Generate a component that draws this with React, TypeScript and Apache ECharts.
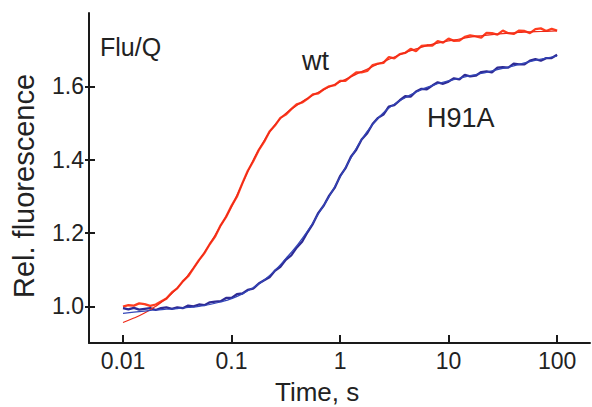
import React, { useEffect, useRef } from "react";
import * as echarts from "echarts";

// Time points of the recorded traces (s)
const TIME = [
  0.01, 0.0112, 0.0126, 0.0141, 0.0158, 0.0178, 0.02, 0.0224, 0.0251, 0.0282,
  0.0316, 0.0355, 0.0398, 0.0447, 0.0501, 0.0562, 0.0631, 0.0708, 0.0794, 0.0891,
  0.1, 0.112, 0.126, 0.141, 0.158, 0.178, 0.2, 0.224, 0.251, 0.282,
  0.316, 0.355, 0.398, 0.447, 0.501, 0.562, 0.631, 0.708, 0.794, 0.891,
  1, 1.12, 1.26, 1.41, 1.58, 1.78, 2, 2.24, 2.51, 2.82,
  3.16, 3.55, 3.98, 4.47, 5.01, 5.62, 6.31, 7.08, 7.94, 8.91,
  10, 11.2, 12.6, 14.1, 15.8, 17.8, 20, 22.4, 25.1, 28.2,
  31.6, 35.5, 39.8, 44.7, 50.1, 56.2, 63.1, 70.8, 79.4, 89.1, 100,
];

// wt trace (noisy record)
const WT = [
  0.999, 1.003, 1.002, 1.008, 1.006, 1.001, 1.005, 1.013, 1.021, 1.038,
  1.049, 1.068, 1.082, 1.104, 1.126, 1.145, 1.17, 1.191, 1.221, 1.244,
  1.274, 1.299, 1.336, 1.369, 1.395, 1.426, 1.449, 1.477, 1.493, 1.514,
  1.523, 1.538, 1.551, 1.556, 1.566, 1.578, 1.581, 1.592, 1.6, 1.603,
  1.615, 1.615, 1.627, 1.638, 1.638, 1.642, 1.658, 1.662, 1.664, 1.68,
  1.676, 1.688, 1.691, 1.702, 1.696, 1.71, 1.712, 1.711, 1.723, 1.719,
  1.73, 1.724, 1.725, 1.735, 1.739, 1.736, 1.733, 1.746, 1.745, 1.741,
  1.752, 1.745, 1.743, 1.752, 1.751, 1.745, 1.756, 1.758, 1.751, 1.757, 1.752,
];

// H91A trace (noisy record)
const H91A = [
  0.995, 0.992, 0.996, 0.991, 0.993, 0.995, 0.99, 0.995, 0.997, 0.993,
  0.997, 0.995, 1.002, 1.0, 1.005, 1.003, 1.011, 1.013, 1.014, 1.023,
  1.023, 1.033, 1.035, 1.045, 1.048, 1.062, 1.071, 1.079, 1.097, 1.108,
  1.127, 1.139, 1.16, 1.176, 1.202, 1.225, 1.255, 1.275, 1.302, 1.323,
  1.355, 1.376, 1.408, 1.427, 1.455, 1.472, 1.498, 1.514, 1.523, 1.545,
  1.549, 1.562, 1.573, 1.572, 1.586, 1.593, 1.592, 1.602, 1.611, 1.607,
  1.613, 1.622, 1.619, 1.631, 1.627, 1.629, 1.639, 1.641, 1.638, 1.651,
  1.652, 1.651, 1.662, 1.66, 1.66, 1.67, 1.674, 1.67, 1.677, 1.677, 1.686,
];

// Time points of the fitted curves (s)
const FIT_TIME = [
  0.01, 0.0126, 0.0158, 0.02, 0.0251, 0.0316, 0.0398, 0.0501, 0.0631, 0.0794,
  0.1, 0.126, 0.158, 0.2, 0.251, 0.316, 0.398, 0.501, 0.631, 0.794,
  1, 1.26, 1.58, 2, 2.51, 3.16, 3.98, 5.01, 6.31, 7.94,
  10, 12.6, 15.8, 20, 25.1, 31.6, 39.8, 50.1, 63.1, 79.4, 100,
];

const WT_FIT = [
  0.956, 0.968, 0.982, 1.0, 1.022, 1.05, 1.085, 1.125, 1.17, 1.22,
  1.272, 1.335, 1.398, 1.452, 1.495, 1.526, 1.548, 1.567, 1.584, 1.598,
  1.612, 1.626, 1.64, 1.654, 1.667, 1.68, 1.692, 1.702, 1.711, 1.718,
  1.724, 1.729, 1.734, 1.738, 1.741, 1.744, 1.746, 1.748, 1.749, 1.75, 1.751,
];

const H91A_FIT = [
  0.981, 0.984, 0.987, 0.99, 0.992, 0.994, 0.997, 1.0, 1.005, 1.012,
  1.021, 1.034, 1.051, 1.072, 1.098, 1.13, 1.165, 1.205, 1.252, 1.3,
  1.352, 1.405, 1.455, 1.496, 1.528, 1.551, 1.569, 1.584, 1.597, 1.607,
  1.615, 1.622, 1.629, 1.635, 1.642, 1.649, 1.656, 1.664, 1.671, 1.677, 1.682,
];

const X_TICKS = [0.01, 0.1, 1, 10, 100];
const Y_TICKS = [1.0, 1.2, 1.4, 1.6];
const X_MIN = 0.00486;
const X_MAX = 201;
const Y_MIN = 0.9;
const Y_MAX = 1.8;

const FONT = '"Liberation Sans", Arial, Helvetica, sans-serif';
const INK = "#1a1a1a";

function pairs(xs: number[], ys: number[]) {
  return xs.map((x, i) => [x, ys[i]]);
}

function fmtX(v: number) {
  if (v >= 1) return String(Math.round(v));
  return String(Number(v.toPrecision(1)));
}

export default function App() {
  const ref = useRef<HTMLDivElement>(null);

  useEffect(() => {
    if (!ref.current) return;
    const chart = echarts.init(ref.current, null, { renderer: "svg" });
    chart.setOption({
      animation: false,
      backgroundColor: "#ffffff",
      grid: { left: 89, right: 2, top: 13, bottom: 64 },
      xAxis: {
        type: "log",
        logBase: 10,
        min: X_MIN,
        max: X_MAX,
        axisLine: { show: true, onZero: false, lineStyle: { color: INK, width: 2 } },
        axisTick: {
          show: true,
          inside: true,
          length: 8,
          customValues: X_TICKS,
          lineStyle: { color: INK, width: 2 },
        },
        minorTick: { show: false },
        axisLabel: {
          customValues: X_TICKS,
          formatter: (v: number) => fmtX(v),
          fontSize: 23,
          fontFamily: FONT,
          color: "#222",
          margin: 6,
        },
        splitLine: { show: false },
      },
      yAxis: [
        {
          type: "value",
          min: Y_MIN,
          max: Y_MAX,
          axisLine: { show: true, onZero: false, lineStyle: { color: INK, width: 2 } },
          axisTick: {
            show: true,
            inside: true,
            length: 6,
            customValues: Y_TICKS,
            lineStyle: { color: INK, width: 2 },
          },
          axisLabel: {
            customValues: Y_TICKS,
            formatter: (v: number) => v.toFixed(1),
            fontSize: 23,
            fontFamily: FONT,
            color: "#222",
            margin: 5,
          },
          splitLine: { show: false },
        },
        {
          type: "value",
          position: "left",
          min: Y_MIN,
          max: Y_MAX,
          axisLine: { show: false },
          axisTick: {
            show: true,
            inside: false,
            length: 4,
            customValues: Y_TICKS,
            lineStyle: { color: INK, width: 2 },
          },
          axisLabel: { show: false },
          splitLine: { show: false },
        },
      ],
      series: [
        {
          name: "wt",
          type: "line",
          data: pairs(TIME, WT),
          showSymbol: false,
          symbol: "none",
          lineStyle: { color: "#ff3d1f", width: 2.3 },
          z: 2,
        },
        {
          name: "H91A",
          type: "line",
          data: pairs(TIME, H91A),
          showSymbol: false,
          symbol: "none",
          lineStyle: { color: "#2e2b95", width: 2.3 },
          z: 2,
        },
        {
          name: "wt fit",
          type: "line",
          data: pairs(FIT_TIME, WT_FIT),
          showSymbol: false,
          symbol: "none",
          smooth: true,
          lineStyle: { color: "#ee2a18", width: 1.2 },
          z: 3,
        },
        {
          name: "H91A fit",
          type: "line",
          data: pairs(FIT_TIME, H91A_FIT),
          showSymbol: false,
          symbol: "none",
          smooth: true,
          lineStyle: { color: "#3346b8", width: 1.2 },
          z: 3,
        },
      ],
      graphic: [
        {
          type: "text",
          x: 100,
          y: 46.5,
          style: { text: "Flu/Q", fontSize: 25, fontFamily: FONT, fill: "#222", textAlign: "left", textVerticalAlign: "middle" },
        },
        {
          type: "text",
          x: 302,
          y: 60.5,
          style: { text: "wt", fontSize: 27, fontFamily: FONT, fill: "#222", textAlign: "left", textVerticalAlign: "middle" },
        },
        {
          type: "text",
          x: 427,
          y: 117.5,
          style: { text: "H91A", fontSize: 27, fontFamily: FONT, fill: "#222", textAlign: "left", textVerticalAlign: "middle" },
        },
        {
          type: "text",
          x: 275,
          y: 391.5,
          style: { text: "Time, s", fontSize: 26, fontFamily: FONT, fill: "#222", textAlign: "left", textVerticalAlign: "middle" },
        },
        {
          type: "text",
          x: 24,
          y: 186,
          rotation: Math.PI / 2,
          style: { text: "Rel. fluorescence", fontSize: 29, fontFamily: FONT, fill: "#222", textAlign: "center", textVerticalAlign: "middle" },
        },
      ],
    });
    return () => chart.dispose();
  }, []);

  return (
    <div
      ref={ref}
      style={{ position: "absolute", left: 0, top: 0, width: 592, height: 407, background: "#fff" }}
    />
  );
}
